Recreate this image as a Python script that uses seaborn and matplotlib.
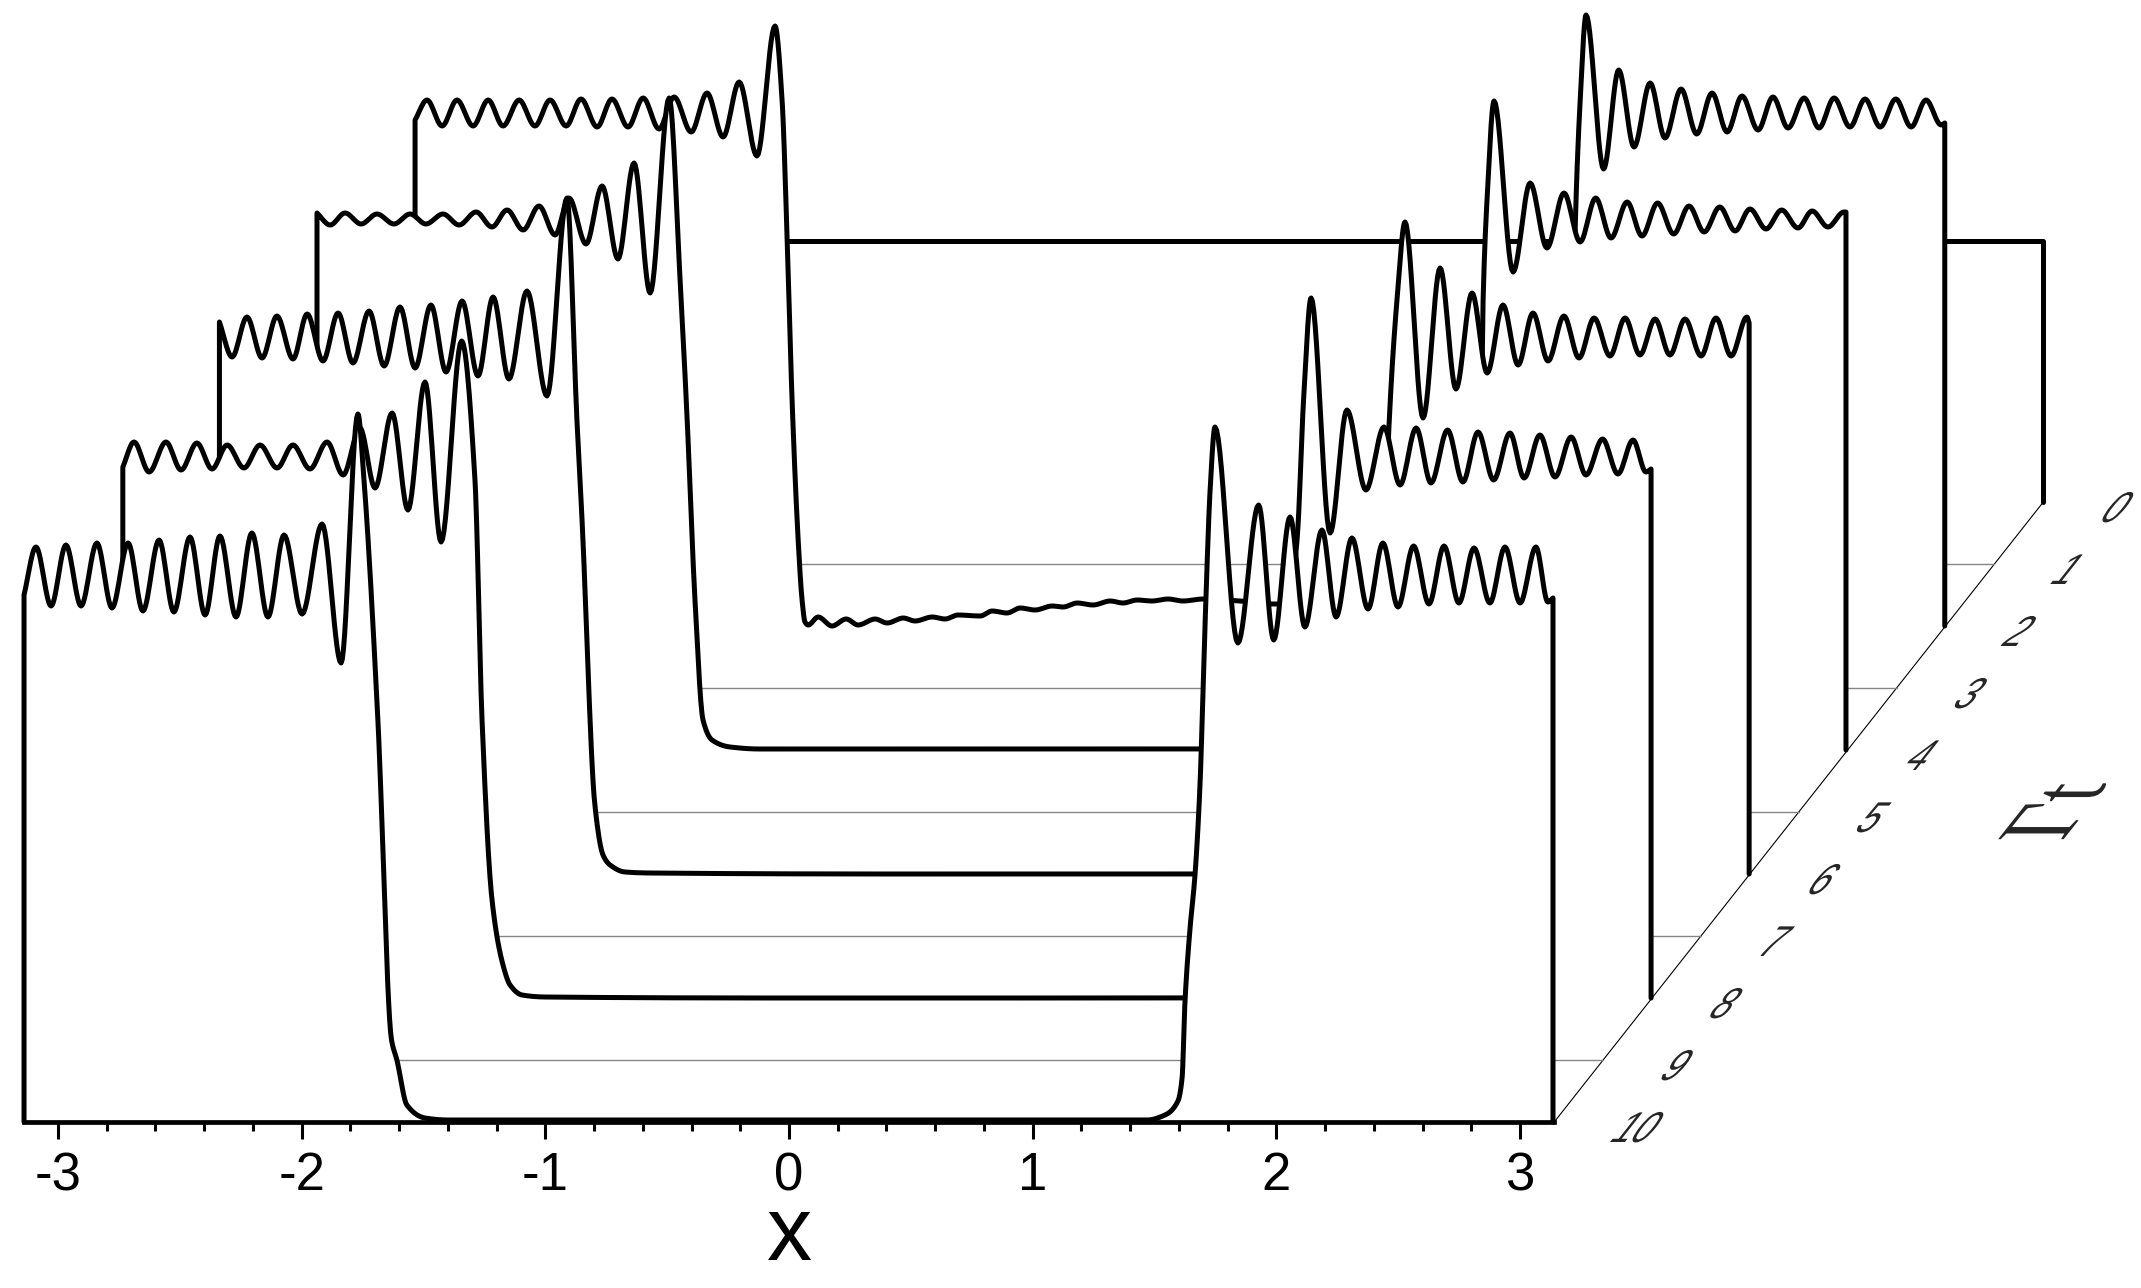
"""Waterfall plot of the density profile x against Gamma t, with hidden parts masked."""

import numpy as np
import matplotlib
matplotlib.use("Agg")
import matplotlib.pyplot as plt
import matplotlib.patheffects as pe
from matplotlib.ticker import FixedLocator
from matplotlib.transforms import Affine2D
import seaborn as sns

# Extrema and edge points: x in axis units, height in arbitrary units
T10_X = [-3.139, -3.090, -3.028, -2.967, -2.905, -2.840, -2.778, -2.712, -2.651, -2.585, -2.524, -2.458,
         -2.396, -2.335, -2.269, -2.204, -2.138, -2.072, -1.998, -1.916, -1.838, -1.769, -1.744, -1.687,
         -1.631, -1.609, -1.568, -1.494, -1.399, -0.603, 1.387, 1.469, 1.543, 1.596, 1.613, 1.625, 1.645,
         1.666, 1.687, 1.699, 1.711, 1.728, 1.748, 1.842, 1.927, 1.989, 2.056, 2.117, 2.187, 2.245, 2.310,
         2.376, 2.437, 2.499, 2.563, 2.626, 2.688, 2.749, 2.811, 2.876, 2.938, 3.000, 3.065, 3.114, 3.135]
T10_Y = [527, 575, 516, 577, 516, 579, 514, 579, 511, 582, 510, 585,
         507, 586, 505, 589, 505, 587, 508, 598, 459, 708, 642, 402,
         82, 62, 17, 4, 2, 2, 2, 2, 7, 21, 44, 121, 192,
         247, 340, 432, 525, 632, 695, 479, 617, 482, 605, 495, 592, 505, 584,
         513, 579, 515, 576, 518, 576, 519, 574, 519, 575, 519, 575, 520, 524]

T8_X = [-3.135, -3.089, -3.027, -2.958, -2.896, -2.831, -2.769, -2.707, -2.638, -2.572, -2.502, -2.437,
        -2.367, -2.297, -2.231, -2.162, -2.100, -2.030, -1.965, -1.895, -1.829, -1.745, -1.690, -1.661,
        -1.620, -1.575, -1.546, -1.497, -1.403, -0.356, 1.224, 1.531, 1.613, 1.634, 1.663, 1.687, 1.710,
        1.741, 1.819, 1.888, 1.966, 2.040, 2.106, 2.172, 2.233, 2.301, 2.364, 2.426, 2.490, 2.557, 2.615,
        2.680, 2.742, 2.808, 2.869, 2.937, 3.000, 3.062, 3.115, 3.136]
T8_Y = [531, 556, 526, 556, 528, 555, 529, 553, 530, 553, 530, 553,
        529, 556, 523, 570, 510, 585, 488, 616, 456, 657, 518, 278,
        98, 33, 13, 3, 1, 0, 0, 3, 38, 198, 398, 471, 598,
        700, 465, 588, 508, 571, 513, 570, 515, 568, 516, 566, 518, 565, 520,
        563, 521, 561, 523, 559, 524, 558, 526, 529]

T6_X = [-3.140, -3.088, -3.027, -2.965, -2.904, -2.838, -2.780, -2.715, -2.653, -2.592, -2.526, -2.464,
        -2.399, -2.337, -2.272, -2.210, -2.144, -2.079, -2.017, -1.952, -1.878, -1.796, -1.714, -1.673,
        -1.652, -1.599, -1.566, -1.537, -1.476, -1.373, -0.347, 0.843, 1.471, 1.602, 1.622, 1.635, 1.659,
        1.692, 1.725, 1.799, 1.869, 1.934, 2.000, 2.062, 2.127, 2.189, 2.250, 2.312, 2.377, 2.439, 2.501,
        2.566, 2.628, 2.689, 2.751, 2.812, 2.874, 2.940, 3.001, 3.063, 3.128, 3.137]
T6_Y = [552, 517, 557, 516, 558, 515, 560, 513, 561, 511, 563, 508,
        567, 506, 569, 502, 573, 498, 577, 495, 583, 478, 676, 454,
        354, 68, 19, 9, 2, 1, 0, 0, 1, 14, 74, 274, 447,
        574, 652, 456, 606, 485, 581, 501, 569, 509, 561, 513, 558, 516, 556,
        518, 556, 519, 555, 519, 555, 518, 556, 518, 557, 551]

T4_X = [-3.141, -3.087, -3.026, -2.960, -2.895, -2.825, -2.759, -2.694, -2.624, -2.558, -2.488, -2.423,
        -2.361, -2.295, -2.230, -2.164, -2.107, -2.037, -1.971, -1.906, -1.840, -1.774, -1.696, -1.651,
        -1.622, -1.590, -1.557, -1.520, -1.446, -1.323, -0.338, 0.478, 1.467, 1.599, 1.619, 1.632, 1.644,
        1.660, 1.689, 1.767, 1.837, 1.906, 1.976, 2.042, 2.106, 2.169, 2.235, 2.296, 2.360, 2.426, 2.489,
        2.551, 2.615, 2.678, 2.739, 2.805, 2.869, 2.936, 2.994, 3.059, 3.125, 3.133]
T4_Y = [537, 525, 537, 526, 536, 526, 536, 526, 536, 525, 538, 523,
        540, 520, 544, 515, 552, 506, 564, 491, 587, 457, 652, 470,
        330, 150, 30, 10, 3, 1, 1, 1, 2, 15, 100, 250, 450,
        550, 649, 478, 567, 502, 557, 508, 552, 512, 548, 514, 547, 516, 544,
        518, 543, 519, 541, 521, 540, 522, 539, 523, 538, 538]

T2_X = [-3.140, -3.091, -3.029, -2.968, -2.902, -2.840, -2.779, -2.713, -2.648, -2.586, -2.520, -2.459,
        -2.393, -2.332, -2.266, -2.204, -2.139, -2.077, -2.007, -1.942, -1.876, -1.810, -1.737, -1.663,
        -1.634, -1.613, -1.593, -1.568, -1.552, -1.540, -1.527, -1.486, -1.429, -1.371, -1.322, -1.252,
        -1.203, -1.137, -1.088, -1.018, -0.965, -0.912, -0.821, -0.772, -0.711, -0.657, -0.596, -0.526,
        -0.481, -0.423, -0.358, -0.288, -0.235, -0.177, -0.116, -0.050, 0.011, 0.094, 0.245, 0.377, 0.902,
        1.435, 1.558, 1.591, 1.608, 1.616, 1.620, 1.641, 1.665, 1.737, 1.799, 1.862, 1.928, 1.989, 2.055,
        2.119, 2.182, 2.244, 2.305, 2.371, 2.432, 2.494, 2.560, 2.621, 2.683, 2.748, 2.810, 2.872, 2.936,
        2.999, 3.060, 3.122, 3.137]
T2_Y = [506, 526, 500, 526, 500, 526, 500, 526, 500, 526, 500, 527,
        499, 527, 499, 528, 497, 529, 494, 533, 489, 544, 470, 600,
        526, 386, 226, 86, 26, 4, 1, 9, 0, 7, 1, 7,
        3, 8, 5, 9, 7, 11, 10, 15, 13, 18, 16, 20,
        19, 23, 21, 25, 23, 26, 25, 27, 25, 27, 25, 22, 22,
        28, 36, 86, 226, 343, 393, 526, 611, 457, 556, 479, 543, 488, 537,
        492, 533, 494, 530, 496, 529, 498, 528, 498, 528, 499, 527, 499, 527,
        499, 526, 501, 503]

T0_X = [-3.14, 3.14]
T0_Y = [261, 261]

CURVE_TIMES = [0, 2, 4, 6, 8, 10]
CURVES_X = [T0_X, T2_X, T4_X, T6_X, T8_X, T10_X]
CURVES_Y = [T0_Y, T2_Y, T4_Y, T6_Y, T8_Y, T10_Y]
GRID_TIMES = [1, 3, 5, 7, 9]
TIME_TICKS = [0, 1, 2, 3, 4, 5, 6, 7, 8, 9, 10]
X_RANGE = [-3.14, 3.14]
X_TICKS = [-3, -2, -1, 0, 1, 2, 3]
X_TICK_LABELS = ["-3", "-2", "-1", "0", "1", "2", "3"]
X_MINOR_TICKS = [-2.8, -2.6, -2.4, -2.2, -1.8, -1.6, -1.4, -1.2, -0.8, -0.6, -0.4, -0.2,
                 0.2, 0.4, 0.6, 0.8, 1.2, 1.4, 1.6, 1.8, 2.2, 2.4, 2.6, 2.8]

# Oblique projection: shift of one unit of Gamma t
SHIFT_X = 0.2007
SHIFT_Y = 62.0
SHEAR = 0.79

sns.set_theme(style="white")
plt.rcParams["font.family"] = ["Liberation Sans", "DejaVu Sans"]


class ObliqueText(pe.AbstractPathEffect):
    """Shears and squeezes real text around its anchor, like the projected axis labels."""

    def __init__(self, ax, anchor, shear=SHEAR, scale_x=1.0, scale_y=1.0):
        super().__init__()
        self.ax = ax
        self.anchor = anchor
        self.shear = shear
        self.scale_x = scale_x
        self.scale_y = scale_y

    def draw_path(self, renderer, gc, tpath, affine, rgbFace=None):
        cx, cy = self.ax.transData.transform(self.anchor)
        extra = (Affine2D().translate(-cx, -cy).scale(self.scale_x, self.scale_y)
                 .skew(np.arctan(self.shear), 0).translate(cx, cy))
        renderer.draw_path(gc, tpath, affine + extra, rgbFace)


def smooth_trace(x, y, n=14):
    """Monotone cubic drawing path through the read points, so ripples are not drawn as zigzags."""
    x = np.asarray(x, dtype=float)
    y = np.asarray(y, dtype=float)
    h = np.diff(x)
    s = np.diff(y) / h
    d = np.zeros_like(x)
    d[0], d[-1] = s[0], s[-1]
    for i in range(1, len(x) - 1):
        if s[i - 1] * s[i] > 0:
            w1 = 2 * h[i] + h[i - 1]
            w2 = h[i] + 2 * h[i - 1]
            d[i] = (w1 + w2) / (w1 / s[i - 1] + w2 / s[i])
    xs, ys = [], []
    for i in range(len(h)):
        t = np.linspace(0, 1, n, endpoint=False)
        xs.append(x[i] + t * h[i])
        ys.append((2 * t**3 - 3 * t**2 + 1) * y[i] + (t**3 - 2 * t**2 + t) * h[i] * d[i]
                  + (-2 * t**3 + 3 * t**2) * y[i + 1] + (t**3 - t**2) * h[i] * d[i + 1])
    xs.append(x[-1:])
    ys.append(y[-1:])
    return np.concatenate(xs), np.concatenate(ys)


fig = plt.figure(figsize=(21.41, 12.88), dpi=100, facecolor="white")
ax = fig.add_axes([0, 0, 1, 1], facecolor="white")

# Back to front: each curve's white fill hides whatever lies behind it
layers = sorted([(t, "curve") for t in CURVE_TIMES] + [(t, "grid") for t in GRID_TIMES])
z = 3
for t, kind in layers:
    dx = (10 - t) * SHIFT_X
    dy = (10 - t) * SHIFT_Y
    if kind == "grid":
        sns.lineplot(x=np.array(X_RANGE) + dx, y=[dy, dy], color="#858585", linewidth=1.0,
                     estimator=None, sort=False, legend=False, ax=ax, zorder=z)
    else:
        i = CURVE_TIMES.index(t)
        xs, ys = smooth_trace(CURVES_X[i], CURVES_Y[i])
        ax.fill_between(xs + dx, dy, ys + dy, color="white", linewidth=0, zorder=z)
        xs = np.concatenate([xs[:1], xs, xs[-1:]])
        ys = np.concatenate([[0], ys, [0]])
        sns.lineplot(x=xs + dx, y=ys + dy, color="black", linewidth=3.6,
                     estimator=None, sort=False, legend=False, ax=ax, zorder=z + 1)
    z += 2

# Oblique Gamma t axis
sns.lineplot(x=[X_RANGE[1], X_RANGE[1] + 10 * SHIFT_X], y=[0, 10 * SHIFT_Y], color="black", linewidth=0.8,
             estimator=None, sort=False, legend=False, ax=ax, zorder=2)
for t in TIME_TICKS:
    pos = (X_RANGE[1] + (10 - t) * SHIFT_X + 0.254, (10 - t) * SHIFT_Y - 9)
    txt = ax.text(pos[0], pos[1], str(t), fontsize=31, ha="left", va="center")
    txt.set_path_effects([ObliqueText(ax, pos, scale_x=0.8)])

pos = (5.22, 1122 - 812)
txt = ax.text(pos[0], pos[1], "\u0393t", family="Liberation Serif", fontsize=72, rotation=90,
              ha="center", va="center")
txt.set_path_effects([ObliqueText(ax, pos, scale_y=0.68)])

# x axis on the front curve's baseline
ax.set_xlim((0 - 789) / 243.7, (2141 - 789) / 243.7)
ax.set_ylim(1122 - 1288, 1122)
for side in ["top", "left", "right"]:
    ax.spines[side].set_visible(False)
ax.spines["bottom"].set_position(("data", 0))
ax.spines["bottom"].set_bounds(X_RANGE[0], X_RANGE[1])
ax.spines["bottom"].set_linewidth(3.4)
ax.spines["bottom"].set_color("black")
ax.spines["bottom"].set_zorder(60)
ax.set_yticks([])
ax.xaxis.set_major_locator(FixedLocator(X_TICKS))
ax.xaxis.set_minor_locator(FixedLocator(X_MINOR_TICKS))
ax.set_xticklabels(X_TICK_LABELS, fontsize=38, color="black")
ax.tick_params(axis="x", which="major", bottom=True, direction="out", length=12.2, width=2.2, color="black", pad=9)
ax.tick_params(axis="x", which="minor", bottom=True, direction="out", length=6.5, width=2.2, color="black")
ax.set_xlabel("x", fontsize=65, color="black", va="center")
ax.xaxis.set_label_coords(790 / 2141, 1 - 1237 / 1288)

fig.savefig("out.png", dpi=100, facecolor="white")
